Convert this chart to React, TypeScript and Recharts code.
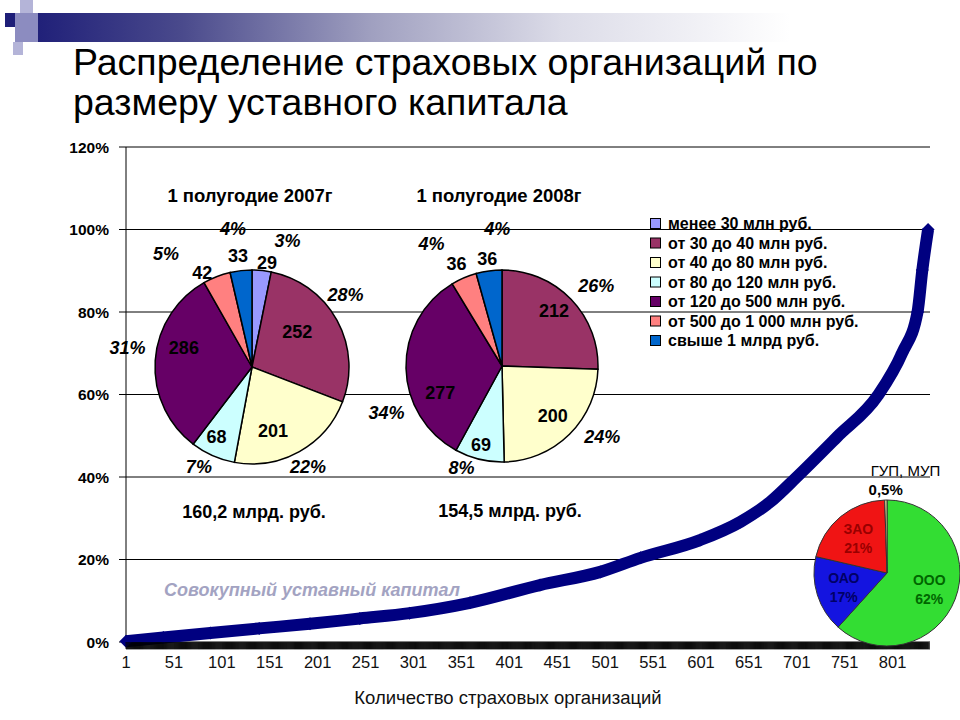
import { LineChart, Line, XAxis, YAxis, CartesianGrid, PieChart, Pie, Cell } from "recharts";

const FONT = '"Liberation Sans", Arial, sans-serif';

// cumulative share of total charter capital (%), organisations sorted by capital size
const ORG_NO = [1, 40, 89, 140, 193, 245, 297, 360, 433, 496, 538, 600, 642, 673, 701, 743, 786, 811, 827, 832, 838];
const CUM_SHARE = [0.2, 1.1, 2.2, 3.3, 4.4, 5.7, 7.0, 9.5, 13.8, 17.0, 20.4, 24.7, 29.1, 33.9, 40.0, 49.7, 59.9, 70.1, 80.0, 90.2, 100.0];

const X_LABELS = [1, 51, 101, 151, 201, 251, 301, 351, 401, 451, 501, 551, 601, 651, 701, 751, 801];
const Y_TICKS = [0, 20, 40, 60, 80, 100, 120];
const X_TICKS = Array.from({ length: 838 }, (_, i) => i + 1);

// size classes of charter capital
const SIZE_CLASSES = [
  "менее 30 млн руб.",
  "от 30 до 40 млн руб.",
  "от 40 до 80 млн руб.",
  "от 80 до 120 млн руб.",
  "от 120 до 500 млн руб.",
  "от 500 до 1 000 млн руб.",
  "свыше 1 млрд руб.",
];
const SIZE_COLORS = ["#9999FF", "#993366", "#FFFFCC", "#CCFFFF", "#660066", "#FF8080", "#0066CC"];

const ORGS_2007 = [29, 252, 201, 68, 286, 42, 33];
const PCT_2007 = [3, 28, 22, 7, 31, 5, 4];
const ORGS_2008 = [0, 212, 200, 69, 277, 36, 36];
const PCT_2008 = [0, 26, 24, 8, 34, 4, 4];

// ownership forms
const FORMS = ["ООО", "ОАО", "ЗАО", "ГУП, МУП"];
const FORM_SHARES = [62, 17, 21, 0.5];
const FORM_LABELS = ["62%", "17%", "21%", "0,5%"];
const FORM_COLORS = ["#33DD33", "#1414E0", "#F01414", "#F0F0A0"];
const FORM_TEXT = ["#006600", "#000066", "#990000", "#000"];

// label placement: [angle nudge (deg, clockwise), radius factor]
const VAL_PLACE_2007 = [[2.5, 1.08], [-9, 0.59], [11, 0.69], [3, 0.81], [12, 0.73], [-6.5, 1.1], [-0.7, 1.15]];
const PCT_PLACE_2007 = [[10, 1.35], [-9, 1.22], [0, 1.18], [4, 1.17], [5, 1.3], [-16, 1.46], [-1.3, 1.44]];
const VAL_PLACE_2008 = [[0, 1], [-2.6, 0.79], [-1, 0.74], [1.3, 0.85], [-22, 0.7], [-0.7, 1.16], [0, 1.13]];
const PCT_PLACE_2008 = [[0, 1], [3.6, 1.29], [-10, 1.28], [8, 1.14], [-21, 1.3], [-6.6, 1.47], [5.8, 1.43]];

const RAD = Math.PI / 180;
const polar = (cx: number, cy: number, ang: number, r: number) => [cx + r * Math.cos(ang * RAD), cy - r * Math.sin(ang * RAD)];

// tick mark for every organisation, number only every 50
const renderXTick = (props: any) => {
  const { x, y, payload } = props;
  const showLabel = X_LABELS.includes(payload.value);
  return (
    <g>
      <rect x={x - 0.4} y={y - 8} width={0.8} height={7} fill="#000" />
      {showLabel && (
        <text x={x} y={y + 18} textAnchor="middle" fontSize={16.5} fill="#111" fontFamily={FONT}>
          {payload.value}
        </text>
      )}
    </g>
  );
};

const Diamond = (props: any) => {
  const { cx, cy } = props;
  const s = 6.5;
  return <polygon points={`${cx},${cy - s} ${cx + s},${cy} ${cx},${cy + s} ${cx - s},${cy}`} fill="#000080" />;
};

function SizePie({ values, pcts, valPlace, pctPlace, cx, cy, r }: any) {
  const data = SIZE_CLASSES.map((name, i) => ({ name, value: values[i], pct: pcts[i], idx: i })).filter((d) => d.value > 0);
  const size = 340;
  const label = (p: any) => {
    const e = data[p.index];
    const [vn, vr] = valPlace[e.idx];
    const [pn, pr] = pctPlace[e.idx];
    const [vx, vy] = polar(p.cx, p.cy, p.midAngle - vn, p.outerRadius * vr);
    const [px, py] = polar(p.cx, p.cy, p.midAngle - pn, p.outerRadius * pr);
    return (
      <g fontFamily={FONT} fontWeight="bold" fontSize={18} fill="#000">
        <text x={vx} y={vy} textAnchor="middle" dominantBaseline="central">{e.value}</text>
        <text x={px} y={py} textAnchor="middle" dominantBaseline="central" fontStyle="italic">{e.pct}%</text>
      </g>
    );
  };
  return (
    <div style={{ position: "absolute", left: cx - size / 2, top: cy - size / 2 }}>
      <PieChart width={size} height={size}>
        <Pie
          data={data}
          dataKey="value"
          cx={size / 2}
          cy={size / 2}
          outerRadius={r}
          startAngle={90}
          endAngle={-270}
          stroke="#000"
          strokeWidth={1.5}
          label={label}
          labelLine={false}
          isAnimationActive={false}
        >
          {data.map((d) => (
            <Cell key={d.idx} fill={SIZE_COLORS[d.idx]} />
          ))}
        </Pie>
      </PieChart>
    </div>
  );
}

function FormPie() {
  const data = FORMS.map((name, i) => ({ name, value: FORM_SHARES[i] }));
  const size = 220;
  const cx = 882;
  const cy = 568;
  const label = (p: any) => {
    const i = p.index;
    if (i === 3) {
      const [x, y] = polar(p.cx, p.cy, p.midAngle, p.outerRadius * 1.15);
      return (
        <g fontFamily={FONT} fontSize={15} fill="#000">
          <text x={x - 15} y={y - 13}>{FORMS[i]}</text>
          <text x={x} y={y} textAnchor="middle" dominantBaseline="central" fontWeight="bold">{FORM_LABELS[i]}</text>
        </g>
      );
    }
    const [x, y] = polar(p.cx, p.cy, p.midAngle, p.outerRadius * 0.62);
    return (
      <g fontFamily={FONT} fontSize={14} fontWeight="bold" fill={FORM_TEXT[i]}>
        <text x={x} y={y - 9} textAnchor="middle" dominantBaseline="central">{FORMS[i]}</text>
        <text x={x} y={y + 10} textAnchor="middle" dominantBaseline="central">{FORM_LABELS[i]}</text>
      </g>
    );
  };
  return (
    <div style={{ position: "absolute", left: cx - size / 2, top: cy - size / 2 }}>
      <PieChart width={size} height={size}>
        <Pie
          data={data}
          dataKey="value"
          cx={size / 2}
          cy={size / 2}
          outerRadius={73}
          startAngle={90}
          endAngle={-270}
          stroke="#333"
          strokeWidth={1}
          label={label}
          labelLine={false}
          isAnimationActive={false}
        >
          {data.map((d, i) => (
            <Cell key={d.name} fill={FORM_COLORS[i]} />
          ))}
        </Pie>
      </PieChart>
    </div>
  );
}

export default function App() {
  const curve = ORG_NO.map((n, i) => ({ n, v: CUM_SHARE[i] }));

  return (
    <div style={{ position: "absolute", left: 0, top: 0, width: 960, height: 720, background: "#fff", overflow: "hidden" }}>
      {/* slide decoration */}
      <svg width={960} height={720} style={{ position: "absolute", left: 0, top: 0 }}>
        <defs>
          <linearGradient id="bar" x1="0" x2="1" y1="0" y2="0">
            <stop offset="0%" stopColor="#1E1E78" />
            <stop offset="20%" stopColor="#4A4A8C" />
            <stop offset="45%" stopColor="#A0A0C0" />
            <stop offset="70%" stopColor="#DCDCE8" />
            <stop offset="100%" stopColor="#FFFFFF" />
          </linearGradient>
        </defs>
        <rect x={30} y={13} width={760} height={29} fill="url(#bar)" />
        <rect x={20} y={0} width={13} height={13} fill="#B4B4D8" />
        <rect x={15} y={13} width={23} height={29} fill="#8C8CC0" />
        <rect x={5} y={13} width={10} height={14} fill="#1E1E78" />
        <rect x={13} y={42} width={10} height={13} fill="#B4B4D8" />
      </svg>

      <div style={{ position: "absolute", left: 0, top: 0 }}>
        <LineChart width={960} height={720} data={curve} margin={{ top: 147, right: 30, bottom: 38, left: 66 }}>
          <CartesianGrid vertical={false} stroke="#000" />
          <XAxis
            dataKey="n"
            type="number"
            domain={[1, 840]}
            ticks={X_TICKS}
            interval={0}
            tick={renderXTick}
            tickSize={6}
            tickMargin={2}
            tickLine={false}
            axisLine={{ stroke: "#000", strokeWidth: 7, strokeDasharray: "0.7 0.26", transform: "translate(0, 4)" }}
            height={40}
          />
          <YAxis
            domain={[0, 120]}
            ticks={Y_TICKS}
            tickFormatter={(v) => `${v}%`}
            width={60}
            tickSize={7}
            tickMargin={10}
            tickLine={{ stroke: "#000" }}
            axisLine={{ stroke: "#000" }}
            tick={{ fill: "#000", fontSize: 15.5, fontWeight: "bold", fontFamily: FONT }}
          />
          <Line
            dataKey="v"
            type="monotone"
            stroke="#000080"
            strokeWidth={12}
            dot={<Diamond />}
            isAnimationActive={false}
          />
        </LineChart>
      </div>

      {/* texts */}
      <svg width={960} height={720} style={{ position: "absolute", left: 0, top: 0 }} fontFamily={FONT}>
        <text x={73} y={75} fontSize={37.5} fill="#000">Распределение страховых организаций по</text>
        <text x={73} y={115} fontSize={37.5} fill="#000">размеру уставного капитала</text>

        <text x={250} y={202} fontSize={18.5} fontWeight="bold" textAnchor="middle">1 полугодие 2007г</text>
        <text x={499} y={202} fontSize={18.5} fontWeight="bold" textAnchor="middle">1 полугодие 2008г</text>
        <text x={254} y={518} fontSize={18} fontWeight="bold" textAnchor="middle">160,2 млрд. руб.</text>
        <text x={510} y={517} fontSize={18} fontWeight="bold" textAnchor="middle">154,5 млрд. руб.</text>

        <text x={164} y={596} fontSize={18} fontWeight="bold" fontStyle="italic" fill="#A3A3C2">
          Совокупный уставный капитал
        </text>
        <text x={508} y={704} fontSize={18.5} textAnchor="middle" fill="#111">
          Количество страховых организаций
        </text>

        {SIZE_CLASSES.map((name, i) => (
          <g key={name}>
            <rect x={650.5} y={218.5 + i * 19.5} width={10} height={10} fill={SIZE_COLORS[i]} stroke="#000" />
            <text x={668} y={229 + i * 19.5} fontSize={16} fontWeight="bold">{name}</text>
          </g>
        ))}
      </svg>

      <SizePie values={ORGS_2007} pcts={PCT_2007} valPlace={VAL_PLACE_2007} pctPlace={PCT_PLACE_2007} cx={247} cy={362} r={97} />
      <SizePie values={ORGS_2008} pcts={PCT_2008} valPlace={VAL_PLACE_2008} pctPlace={PCT_PLACE_2008} cx={497} cy={361} r={96} />
      <FormPie />
    </div>
  );
}
